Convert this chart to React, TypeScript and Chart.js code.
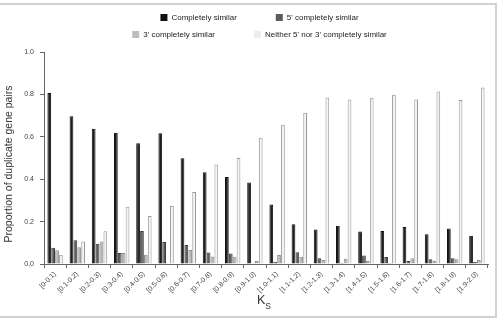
import React, { useEffect, useRef } from "react";
import { Chart, registerables } from "chart.js";

Chart.register(...registerables);

const categories = [
  "[0-0.1)", "[0.1-0.2)", "[0.2-0.3)", "[0.3-0.4)", "[0.4-0.5)",
  "[0.5-0.6)", "[0.6-0.7)", "[0.7-0.8)", "[0.8-0.9)", "[0.9-1.0)",
  "[1.0-1.1)", "[1.1-1.2)", "[1.2-1.3)", "[1.3-1.4)", "[1.4-1.5)",
  "[1.5-1.6)", "[1.6-1.7)", "[1.7-1.8)", "[1.8-1.9)", "[1.9-2.0)",
];

const completelySimilar = [0.807, 0.697, 0.638, 0.619, 0.569, 0.617, 0.499, 0.433, 0.41, 0.385, 0.281, 0.188, 0.163, 0.18, 0.153, 0.156, 0.174, 0.14, 0.167, 0.133];
const fivePrimeSimilar = [0.077, 0.112, 0.095, 0.052, 0.156, 0.104, 0.09, 0.054, 0.05, 0, 0.011, 0.055, 0.027, 0.005, 0.04, 0.033, 0.014, 0.022, 0.027, 0.009];
const threePrimeSimilar = [0.065, 0.079, 0.106, 0.052, 0.044, 0, 0.066, 0.035, 0.034, 0.014, 0.043, 0.034, 0.019, 0.025, 0.014, 0.005, 0.027, 0.014, 0.022, 0.019];
const neitherSimilar = [0.044, 0.106, 0.155, 0.27, 0.226, 0.273, 0.34, 0.469, 0.5, 0.595, 0.657, 0.714, 0.785, 0.776, 0.784, 0.798, 0.776, 0.814, 0.774, 0.833];

const seriesLabels = [
  "Completely similar",
  "5' completely similar",
  "3' completely similar",
  "Neither 5' nor 3' completely similar",
];
const fills = ["#1e1e1e", "#5c5c5c", "#b6b6b6", "#f3f3f3"];
const borders = ["#111111", "#3c3c3c", "#8e8e8e", "#9a9a9a"];
const legendBoxFills = ["#111111", "#5c5c5c", "#bdbdbd", "#ededed"];

const yTickValues = [0, 0.2, 0.4, 0.6, 0.8, 1.0];
const yAxisTitle = "Proportion of duplicate gene pairs";
const xAxisTitleMain = "K";
const xAxisTitleSub = "S";

const FONT = "'Liberation Sans', Arial, Helvetica, sans-serif";

const decorPlugin = {
  id: "decor",
  beforeDraw(chart: any) {
    const ctx = chart.ctx;
    ctx.save();
    ctx.fillStyle = "#ffffff";
    ctx.fillRect(0, 0, chart.width, chart.height);
    ctx.strokeStyle = "#d2d2d2";
    ctx.lineWidth = 2;
    ctx.beginPath();
    ctx.moveTo(0, 4);
    ctx.lineTo(496, 4);
    ctx.lineTo(496, 317);
    ctx.lineTo(0, 317);
    ctx.stroke();
    ctx.restore();
  },
  afterDraw(chart: any) {
    const ctx = chart.ctx;
    const area = chart.chartArea;
    ctx.save();
    // legend
    ctx.font = `8px ${FONT}`;
    ctx.textBaseline = "middle";
    ctx.textAlign = "left";
    const rows = [[0, 1], [2, 3]];
    const rowY = [17.5, 34.5];
    const box = 7;
    const boxGap = 4;
    const itemGap = 39;
    const centerX = chart.width / 2 + 10;
    rows.forEach((row, ri) => {
      const widths = row.map((i) => box + boxGap + ctx.measureText(seriesLabels[i]).width);
      const total = widths.reduce((a, b) => a + b, 0) + itemGap * (row.length - 1);
      let x = centerX - total / 2;
      row.forEach((i, k) => {
        ctx.fillStyle = legendBoxFills[i];
        ctx.fillRect(x, rowY[ri] - box / 2, box, box);
        ctx.fillStyle = "#222";
        ctx.fillText(seriesLabels[i], x + box + boxGap, rowY[ri] + 0.5);
        x += widths[k] + itemGap;
      });
    });
    // y title
    ctx.fillStyle = "#333";
    ctx.font = `10.5px ${FONT}`;
    ctx.textAlign = "center";
    ctx.textBaseline = "middle";
    ctx.translate(9, (area.top + area.bottom) / 2 + 6);
    ctx.rotate(-Math.PI / 2);
    ctx.fillText(yAxisTitle, 0, 0);
    ctx.restore();

    // x title K_S
    ctx.save();
    ctx.fillStyle = "#333";
    ctx.textBaseline = "alphabetic";
    ctx.textAlign = "left";
    ctx.font = `12.5px ${FONT}`;
    const kW = ctx.measureText(xAxisTitleMain).width;
    ctx.font = `8.5px ${FONT}`;
    const sW = ctx.measureText(xAxisTitleSub).width;
    const cx = (area.left + area.right) / 2 - 2;
    const x0 = cx - (kW + sW) / 2;
    ctx.font = `12.5px ${FONT}`;
    ctx.fillText(xAxisTitleMain, x0, 304);
    ctx.font = `8.5px ${FONT}`;
    ctx.fillText(xAxisTitleSub, x0 + kW, 309);
    ctx.restore();
  },
};

export default function App() {
  const ref = useRef<HTMLCanvasElement | null>(null);

  useEffect(() => {
    document.body.style.margin = "0";
    const canvas = ref.current;
    if (!canvas) return;
    const seriesData = [completelySimilar, fivePrimeSimilar, threePrimeSimilar, neitherSimilar];
    const chart = new Chart(canvas, {
      type: "bar",
      data: {
        labels: categories,
        datasets: seriesData.map((d, i) => ({
          label: seriesLabels[i],
          data: d,
          backgroundColor: fills[i],
          borderColor: borders[i],
          borderWidth: 1,
          categoryPercentage: 0.7,
          barPercentage: 0.96,
        })),
      },
      options: {
        responsive: false,
        animation: false,
        layout: { padding: { left: 0, top: 52, right: 11, bottom: 0 } },
        plugins: {
          legend: { display: false },
          tooltip: { enabled: false },
          title: { display: false },
        },
        scales: {
          x: {
            afterFit: (scale: any) => {
              scale.height = 65;
            },
            grid: {
              display: true,
              offset: true,
              drawOnChartArea: false,
              drawTicks: true,
              tickLength: 4,
              color: "#666",
            },
            border: { display: true, color: "#666", width: 1 },
            ticks: {
              autoSkip: false,
              minRotation: 45,
              maxRotation: 45,
              padding: 2,
              color: "#444",
              font: { size: 7, family: FONT },
            },
          },
          y: {
            min: 0,
            max: 1,
            afterFit: (scale: any) => {
              scale.width = 44;
            },
            afterBuildTicks: (scale: any) => {
              scale.ticks = yTickValues.map((v) => ({ value: v }));
            },
            grid: {
              display: true,
              drawOnChartArea: false,
              drawTicks: true,
              tickLength: 4,
              color: "#666",
            },
            border: { display: true, color: "#666", width: 1 },
            ticks: {
              padding: 6,
              color: "#444",
              font: { size: 7, family: FONT },
              callback: (v: any) => Number(v).toFixed(1),
            },
          },
        },
      },
      plugins: [decorPlugin],
    });
    return () => chart.destroy();
  }, []);

  return (
    <div style={{ width: 499, height: 329 }}>
      <canvas ref={ref} width={499} height={329} style={{ display: "block" }} />
    </div>
  );
}
